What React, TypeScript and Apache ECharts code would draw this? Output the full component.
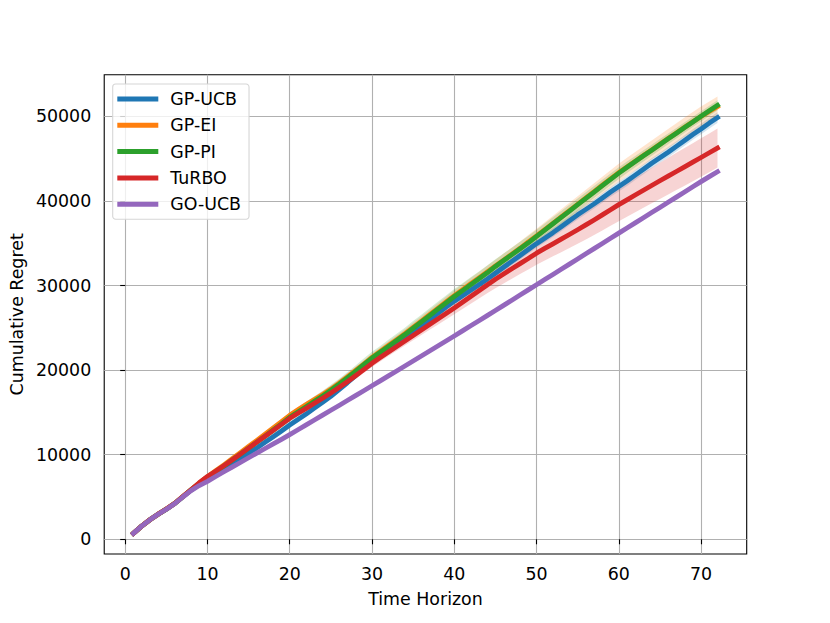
import { useEffect, useRef } from "react";
import * as echarts from "echarts";

const TIME = [
  1, 2, 3, 4, 5, 6, 7, 8, 9, 10, 11, 12, 13, 14, 15, 16, 17, 18, 19, 20,
  21, 22, 23, 24, 25, 26, 27, 28, 29, 30, 31, 32, 33, 34, 35, 36, 37, 38, 39, 40,
  41, 42, 43, 44, 45, 46, 47, 48, 49, 50, 51, 52, 53, 54, 55, 56, 57, 58, 59, 60,
  61, 62, 63, 64, 65, 66, 67, 68, 69, 70, 71, 72,
];

const GP_UCB = [
  700, 1560, 2310, 2960, 3560, 4220, 5020, 5800, 6480, 7150,
  7720, 8300, 8900, 9520, 10160, 10800, 11460, 12130, 12810, 13500,
  14150, 14800, 15500, 16200, 16900, 17700, 18500, 19350, 20200, 21050,
  21700, 22400, 23100, 23800, 24550, 25250, 25950, 26700, 27450, 28150,
  28800, 29450, 30100, 30750, 31450, 32150, 32850, 33550, 34250, 34950,
  35600, 36250, 36950, 37650, 38350, 39000, 39650, 40350, 41050, 41700,
  42350, 43050, 43750, 44450, 45100, 45750, 46450, 47150, 47850, 48500, 49200, 49850,
];
const GP_EI = [
  700, 1560, 2310, 2970, 3570, 4230, 5040, 5850, 6650, 7400,
  8100, 8800, 9520, 10250, 10980, 11700, 12440, 13180, 13910, 14650,
  15300, 15920, 16520, 17120, 17750, 18450, 19200, 19950, 20700, 21500,
  22200, 22900, 23600, 24300, 25050, 25800, 26550, 27300, 28050, 28800,
  29500, 30200, 30900, 31600, 32300, 33000, 33700, 34400, 35150, 35850,
  36600, 37350, 38100, 38850, 39600, 40350, 41100, 41850, 42600, 43350,
  44020, 44690, 45360, 46030, 46700, 47370, 48040, 48700, 49350, 49980, 50580, 51150,
];
const GP_PI = [
  700, 1550, 2300, 2960, 3560, 4220, 5030, 5830, 6600, 7330,
  7990, 8670, 9370, 10070, 10780, 11490, 12200, 12920, 13650, 14420,
  15050, 15680, 16300, 16950, 17620, 18330, 19080, 19850, 20640, 21420,
  22100, 22800, 23500, 24200, 24950, 25700, 26450, 27200, 27950, 28700,
  29400, 30100, 30800, 31500, 32250, 32950, 33650, 34350, 35050, 35800,
  36550, 37300, 38050, 38800, 39550, 40300, 41050, 41800, 42550, 43280,
  43970, 44650, 45330, 46000, 46670, 47340, 48010, 48680, 49340, 50000, 50650, 51300,
];
const TURBO = [
  700, 1560, 2310, 2970, 3570, 4230, 5040, 5860, 6680, 7420,
  8050, 8700, 9380, 10070, 10780, 11480, 12180, 12880, 13580, 14300,
  14900, 15480, 16080, 16680, 17300, 17950, 18630, 19330, 20050, 20800,
  21480, 22150, 22800, 23450, 24100, 24750, 25400, 26050, 26700, 27350,
  28030, 28710, 29390, 30070, 30750, 31370, 31980, 32590, 33200, 33820,
  34380, 34930, 35480, 36030, 36590, 37160, 37750, 38350, 38950, 39560,
  40130, 40700, 41260, 41820, 42380, 42930, 43480, 44030, 44580, 45130, 45690, 46250,
];
const GO_UCB = [
  700, 1550, 2300, 2950, 3550, 4200, 5000, 5750, 6350, 6850,
  7420, 7980, 8530, 9080, 9640, 10180, 10730, 11270, 11820, 12380,
  12950, 13520, 14100, 14670, 15250, 15820, 16400, 16980, 17560, 18150,
  18730, 19310, 19900, 20480, 21070, 21660, 22250, 22850, 23440, 24040,
  24640, 25240, 25840, 26440, 27050, 27650, 28260, 28870, 29480, 30090,
  30700, 31310, 31920, 32530, 33140, 33750, 34360, 34970, 35580, 36190,
  36800, 37400, 38010, 38620, 39230, 39840, 40450, 41060, 41670, 42280, 42870, 43450,
];

// half-widths of the shaded bands
const GP_UCB_SD = [
  0, 20, 30, 40, 50, 60, 70, 80, 90, 100,
  110, 120, 130, 140, 150, 160, 170, 180, 190, 200,
  210, 220, 230, 240, 250, 260, 270, 280, 290, 300,
  310, 320, 330, 340, 350, 360, 370, 380, 390, 400,
  410, 420, 430, 440, 450, 460, 470, 480, 490, 500,
  510, 520, 530, 540, 550, 560, 560, 570, 570, 580,
  580, 590, 590, 600, 600, 610, 610, 620, 620, 630, 630, 640,
];
const GP_EI_SD = [
  0, 30, 50, 70, 90, 110, 130, 150, 170, 190,
  210, 230, 250, 270, 290, 300, 310, 320, 330, 340,
  350, 360, 370, 380, 390, 400, 410, 420, 430, 450,
  470, 490, 510, 530, 550, 570, 590, 610, 630, 650,
  670, 690, 710, 730, 750, 770, 790, 810, 830, 850,
  870, 890, 910, 930, 950, 970, 990, 1010, 1030, 1050,
  1070, 1090, 1100, 1110, 1120, 1130, 1140, 1150, 1160, 1170, 1180, 1190,
];
const GP_PI_SD = [
  0, 30, 60, 90, 120, 150, 180, 210, 240, 270,
  300, 330, 360, 390, 420, 450, 480, 500, 520, 540,
  560, 580, 600, 620, 640, 660, 680, 700, 720, 740,
  760, 780, 800, 820, 840, 850, 860, 870, 880, 890,
  880, 870, 860, 850, 840, 830, 820, 810, 800, 790,
  780, 770, 760, 750, 740, 730, 720, 710, 700, 690,
  680, 670, 660, 650, 640, 630, 620, 610, 600, 600, 600, 600,
];
const TURBO_SD = [
  0, 20, 40, 60, 80, 100, 120, 140, 160, 180,
  200, 210, 220, 230, 240, 250, 260, 270, 280, 290,
  300, 310, 320, 330, 340, 350, 360, 380, 400, 420,
  450, 480, 510, 540, 570, 600, 640, 680, 720, 760,
  820, 880, 940, 1000, 1060, 1120, 1180, 1240, 1300, 1360,
  1420, 1480, 1540, 1600, 1660, 1720, 1780, 1840, 1900, 1960,
  2000, 2040, 2080, 2110, 2140, 2170, 2200, 2230, 2250, 2270, 2290, 2300,
];

const X_TICKS = [0, 10, 20, 30, 40, 50, 60, 70];
const Y_TICKS = [0, 10000, 20000, 30000, 40000, 50000];

const FONT = "DejaVu Sans";

function rgba(hex: string, a: number) {
  const n = parseInt(hex.slice(1), 16);
  return `rgba(${(n >> 16) & 255},${(n >> 8) & 255},${n & 255},${a})`;
}

export default function App() {
  const ref = useRef<HTMLDivElement>(null);
  useEffect(() => {
    const chart = echarts.init(ref.current!, null, { renderer: "svg" });
    const defs = [
      { name: "GP-UCB", mean: GP_UCB, sd: GP_UCB_SD, color: "#1f77b4" },
      { name: "GP-EI", mean: GP_EI, sd: GP_EI_SD, color: "#ff7f0e" },
      { name: "GP-PI", mean: GP_PI, sd: GP_PI_SD, color: "#2ca02c" },
      { name: "TuRBO", mean: TURBO, sd: TURBO_SD, color: "#d62728" },
      { name: "GO-UCB", mean: GO_UCB, sd: null as number[] | null, color: "#9467bd" },
    ];
    const series: any[] = [];
    defs.forEach((d, k) => {
      if (!d.sd) return;
      const sd = d.sd;
      const mean = d.mean;
      series.push({
        type: "custom",
        name: "band-" + k,
        coordinateSystem: "cartesian2d",
        silent: true,
        z: 1,
        data: [[TIME[0], mean[0]]],
        encode: { x: 0, y: 1 },
        renderItem: (_params: any, api: any) => {
          const pts: number[][] = [];
          for (let i = 0; i < TIME.length; i++) {
            pts.push(api.coord([TIME[i], mean[i] + sd[i]]));
          }
          for (let i = TIME.length - 1; i >= 0; i--) {
            pts.push(api.coord([TIME[i], mean[i] - sd[i]]));
          }
          return {
            type: "polygon",
            shape: { points: pts },
            style: { fill: rgba(d.color, 0.2), stroke: "none" },
          };
        },
      });
    });
    defs.forEach((d) => {
      series.push({
        type: "line",
        name: d.name,
        data: TIME.map((t, i) => [t, d.mean[i]]),
        symbol: "none",
        color: d.color,
        itemStyle: { color: d.color },
        lineStyle: { width: 4.8, color: d.color, cap: "square", join: "round" },
        z: 2,
      });
    });

    chart.setOption({
      animation: false,
      backgroundColor: "#ffffff",
      grid: {
        left: 104,
        right: 83.3,
        top: 74.7,
        bottom: 69,
        show: true,
        borderColor: "#000000",
        borderWidth: 1.1,
        backgroundColor: "#ffffff",
      },
      legend: {
        data: defs.map((d) => d.name),
        orient: "vertical",
        left: 112.7,
        top: 84,
        icon: "rect",
        itemWidth: 41,
        itemHeight: 5,
        itemGap: 6.3,
        padding: [5, 8, 5, 4.6],
        backgroundColor: "rgba(255,255,255,0.8)",
        borderColor: "#d6d6d6",
        borderWidth: 1.1,
        borderRadius: 3,
        selectedMode: false,
        textStyle: {
          fontFamily: FONT,
          fontSize: 17.4,
          color: "#000000",
          lineHeight: 20,
          padding: [0, 0, 0, 7],
        },
      },
      xAxis: {
        type: "value",
        min: -2.55,
        max: 75.55,
        minInterval: 10,
        maxInterval: 10,
        splitNumber: 8,
        name: "Time Horizon",
        nameLocation: "middle",
        nameGap: 36,
        nameTextStyle: { fontFamily: FONT, fontSize: 17.4, color: "#000000" },
        axisLine: { show: false },
        axisTick: {
          show: true,
          length: 5,
          customValues: X_TICKS,
          lineStyle: { color: "#000000", width: 1.1 },
        },
        axisLabel: {
          customValues: X_TICKS,
          margin: 11,
          fontFamily: FONT,
          fontSize: 17.4,
          color: "#000000",
          formatter: (v: number) => String(v),
        },
        splitLine: { show: true, lineStyle: { color: "#b0b0b0", width: 1.1 } },
      },
      yAxis: {
        type: "value",
        min: -1740,
        max: 54920,
        minInterval: 10000,
        maxInterval: 10000,
        splitNumber: 6,
        name: "Cumulative Regret",
        nameLocation: "middle",
        nameGap: 76,
        nameTextStyle: { fontFamily: FONT, fontSize: 17.4, color: "#000000" },
        axisLine: { show: false },
        axisTick: {
          show: true,
          length: 5,
          customValues: Y_TICKS,
          lineStyle: { color: "#000000", width: 1.1 },
        },
        axisLabel: {
          customValues: Y_TICKS,
          margin: 13,
          fontFamily: FONT,
          fontSize: 17.4,
          color: "#000000",
          formatter: (v: number) => String(v),
        },
        splitLine: { show: true, lineStyle: { color: "#b0b0b0", width: 1.1 } },
      },
      series,
    });
    return () => chart.dispose();
  }, []);
  return (
    <div
      ref={ref}
      style={{ position: "fixed", left: 0, top: 0, width: 830, height: 623, background: "#fff" }}
    />
  );
}
